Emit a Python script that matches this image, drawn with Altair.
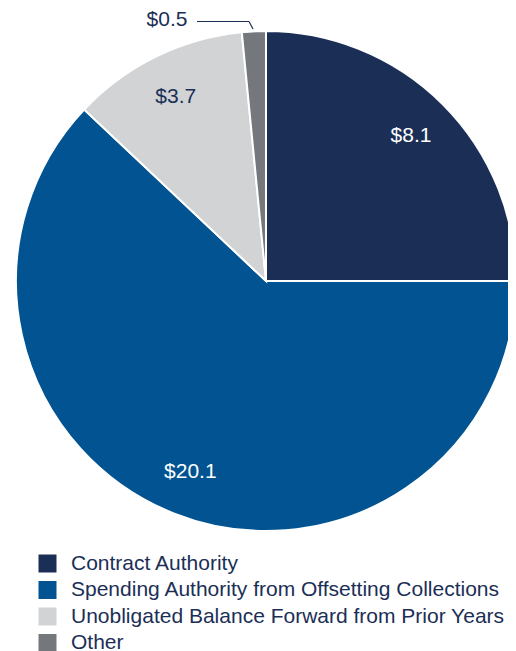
import altair as alt
import pandas as pd

categories = [
    "Contract Authority",
    "Spending Authority from Offsetting Collections",
    "Unobligated Balance Forward from Prior Years",
    "Other",
]
values = [8.1, 20.1, 3.7, 0.5]
inside_labels = ["$8.1", "$20.1", "$3.7", ""]
outside_label = "$0.5"
colors = ["#1b2f56", "#015491", "#d1d3d5", "#74787c"]
navy = "#1b2f56"
font = "Liberation Sans"

df = pd.DataFrame({
    "category": categories,
    "value": values,
    "label": inside_labels,
    "idx": list(range(len(categories))),
})

cx, cy, R = 258, 273, 250

base = alt.Chart(df).encode(
    theta=alt.Theta("value:Q", stack=True),
    order=alt.Order("idx:Q"),
)

pie = base.mark_arc(stroke="white", strokeWidth=2).encode(
    x=alt.value(cx), y=alt.value(cy),
    radius=alt.value(R),
    color=alt.Color(
        "category:N",
        scale=alt.Scale(domain=categories, range=colors),
        sort=categories,
        legend=alt.Legend(
            title=None, orient="none", legendX=29, legendY=545,
            symbolType="square", symbolSize=324, symbolStrokeWidth=0,
            labelFontSize=21, labelFont=font, labelColor=navy,
            labelOffset=13, rowPadding=4.5, padding=0, labelLimit=600,
        ),
    ),
)

texts = base.mark_text(fontSize=21, font=font).encode(
    x=alt.value(cx), y=alt.value(cy),
    radius=alt.value(205),
    text="label:N",
    color=alt.condition(
        alt.FieldOneOfPredicate(field="category", oneOf=categories[:2]),
        alt.value("white"), alt.value(navy),
    ),
)

ann = alt.Chart(pd.DataFrame({"t": [outside_label]}))
out_text = ann.mark_text(fontSize=21, font=font, color=navy, align="center", baseline="middle").encode(
    x=alt.value(159), y=alt.value(12), text="t:N"
)
lead1 = ann.mark_rule(color=navy, strokeWidth=1.2).encode(
    x=alt.value(189), x2=alt.value(241), y=alt.value(13.5), y2=alt.value(13.5)
)
lead2 = ann.mark_rule(color=navy, strokeWidth=1.2).encode(
    x=alt.value(241), x2=alt.value(245), y=alt.value(13.5), y2=alt.value(21)
)

chart = alt.layer(pie, texts, out_text, lead1, lead2).properties(
    width=500, height=643, padding=0, autosize=alt.AutoSizeParams(type="none")
).configure_view(stroke=None)

chart.save("out.html", embed_options={"renderer": "svg", "actions": False})
